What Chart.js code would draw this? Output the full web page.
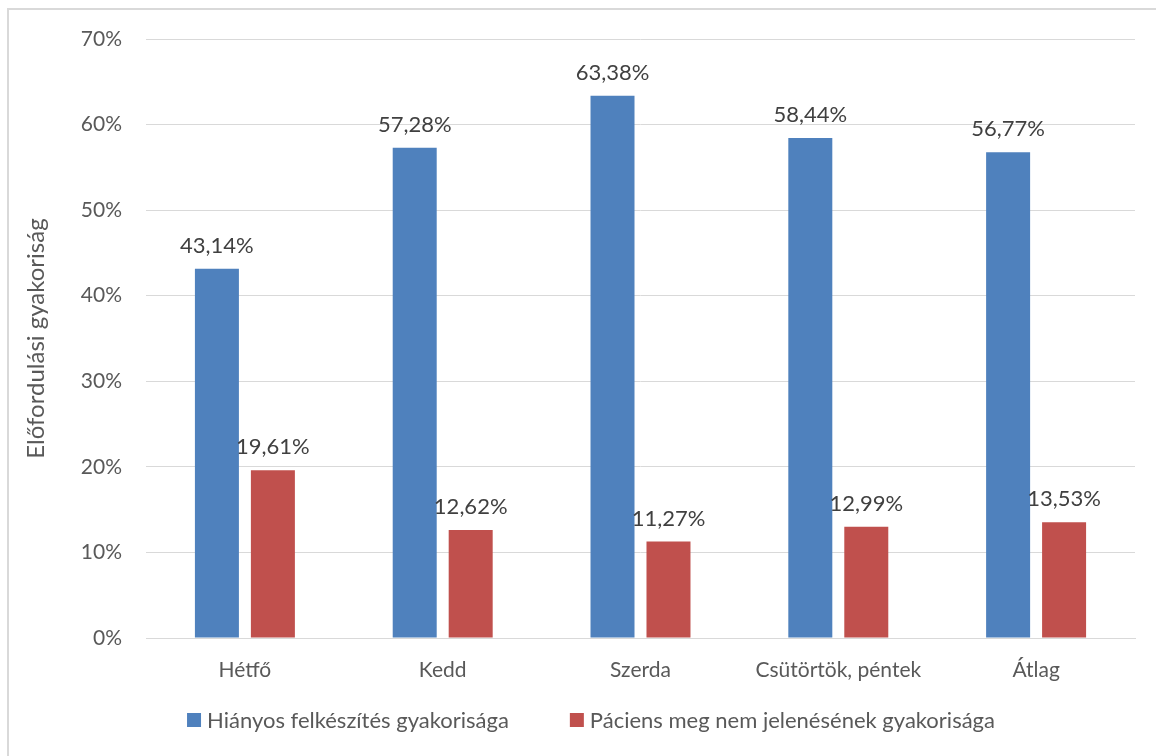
<!DOCTYPE html>
<html>
<head>
<meta charset="utf-8">
<script src="https://cdn.jsdelivr.net/npm/chart.js@4/dist/chart.umd.min.js"></script>
<style>
  html, body { margin: 0; padding: 0; background: #fff; }
  #wrap { position: relative; width: 1156px; height: 756px; overflow: hidden; }
  #frame { position: absolute; left: 7px; top: 8px; width: 1170px; height: 770px; border: 2px solid #d9d9d9; box-sizing: border-box; }
  canvas { position: absolute; left: 0; top: 0; }
</style>
</head>
<body>
<div id="wrap">
  <div id="frame"></div>
  <canvas id="c" width="1156" height="756"></canvas>
</div>
<script>
const categories = ['Hétfő', 'Kedd', 'Szerda', 'Csütörtök, péntek', 'Átlag'];
const hianyos = [43.14, 57.28, 63.38, 58.44, 56.77];
const paciens = [19.61, 12.62, 11.27, 12.99, 13.53];
const seriesNames = ['Hiányos felkészítés gyakorisága', 'Páciens meg nem jelenésének gyakorisága'];
const seriesColors = ['#4F81BD', '#C0504D'];
const yTicks = [0, 10, 20, 30, 40, 50, 60, 70];
const yTitle = 'Előfordulási gyakoriság';

const FONT = 'Lato, Carlito, "Open Sans", sans-serif';
const fmt = v => v.toFixed(2).replace('.', ',') + '%';

// Value labels above the bars, the rotated y-axis title and the legend row
const decorations = {
  id: 'decorations',
  afterDatasetsDraw(chart) {
    const ctx = chart.ctx;
    const area = chart.chartArea;
    ctx.save();
    ctx.font = '22px ' + FONT;
    ctx.fillStyle = '#404040';
    ctx.textAlign = 'center';
    ctx.textBaseline = 'alphabetic';
    chart.data.datasets.forEach((ds, i) => {
      chart.getDatasetMeta(i).data.forEach((bar, j) => {
        ctx.fillText(fmt(ds.data[j]), bar.x, bar.y - 16);
      });
    });

    // legend: square swatch + name, items centred as a group
    ctx.font = '22px ' + FONT;
    ctx.textAlign = 'left';
    ctx.textBaseline = 'middle';
    const box = 14, gapText = 6, gapItem = 61, legendY = 720;
    const widths = chart.data.datasets.map(ds => box + gapText + ctx.measureText(ds.label).width);
    const total = widths.reduce((a, b) => a + b, 0) + gapItem * (widths.length - 1);
    let x = 591 - total / 2;
    chart.data.datasets.forEach((ds, i) => {
      ctx.fillStyle = ds.backgroundColor;
      ctx.fillRect(x, legendY - box / 2, box, box);
      ctx.fillStyle = '#595959';
      ctx.fillText(ds.label, x + box + gapText, legendY + 1);
      x += widths[i] + gapItem;
    });

    ctx.translate(36, (area.top + area.bottom) / 2);
    ctx.rotate(-Math.PI / 2);
    ctx.font = '24px ' + FONT;
    ctx.fillStyle = '#595959';
    ctx.textAlign = 'center';
    ctx.fillText(yTitle, 0, 0);
    ctx.restore();
  }
};

new Chart(document.getElementById('c'), {
  type: 'bar',
  data: {
    labels: categories,
    datasets: seriesNames.map((name, i) => ({
      label: name,
      data: i === 0 ? hianyos : paciens,
      backgroundColor: seriesColors[i]
    }))
  },
  options: {
    responsive: false,
    animation: false,
    devicePixelRatio: 1,
    layout: { padding: { left: 46, right: 21, top: 39, bottom: 58 } },
    datasets: { bar: { categoryPercentage: 0.566, barPercentage: 0.786 } },
    scales: {
      x: {
        grid: { display: false, drawTicks: false },
        border: { color: '#d9d9d9', width: 1 },
        ticks: { color: '#595959', font: { family: FONT, size: 21 }, padding: 20 },
        afterFit(s) { s.height = 60; }
      },
      y: {
        min: 0, max: 70,
        afterBuildTicks(s) { s.ticks = yTicks.map(v => ({ value: v })); },
        grid: { color: '#d9d9d9', lineWidth: 1, drawTicks: false },
        border: { display: false },
        ticks: { color: '#595959', font: { family: FONT, size: 21 }, padding: 24, callback: v => v + '%' },
        afterFit(s) { s.width = 100; }
      }
    },
    plugins: {
      legend: { display: false },
      tooltip: { enabled: false }
    }
  },
  plugins: [decorations]
});
</script>
</body>
</html>
